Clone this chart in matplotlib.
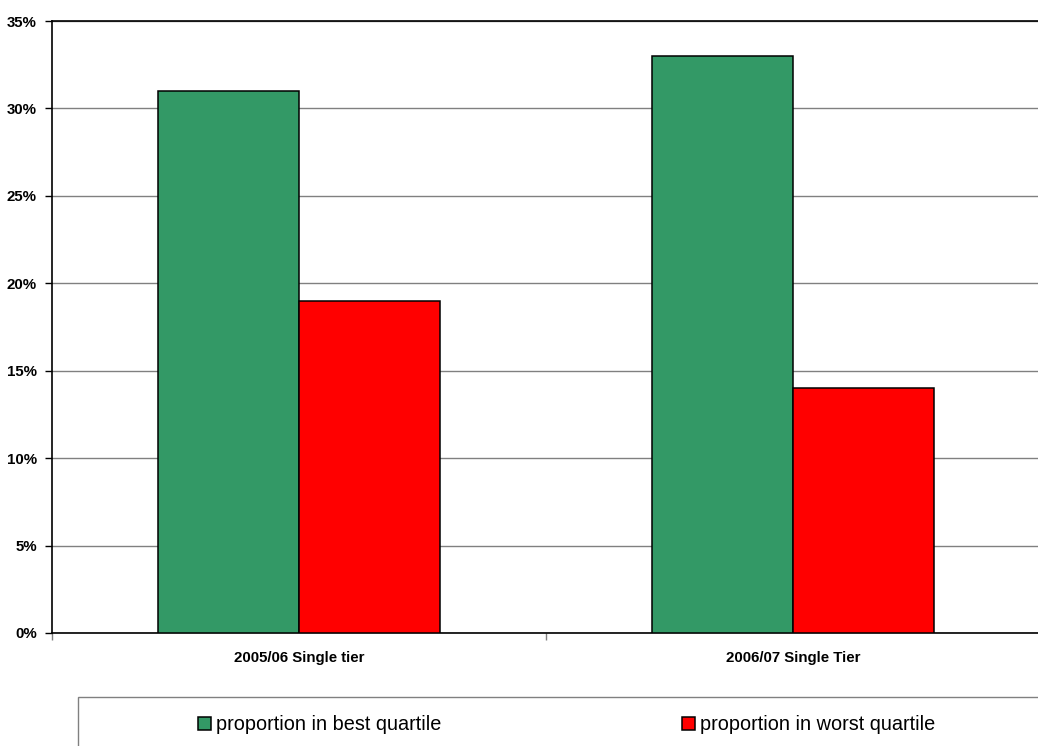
import matplotlib.pyplot as plt
import matplotlib.patches as mpatches
import numpy as np

plt.rcParams['font.family'] = ['Liberation Sans', 'DejaVu Sans']

# data
categories = ['2005/06 Single tier', '2006/07 Single Tier']
best_quartile = [31, 33]
worst_quartile = [19, 14]
series_names = ['proportion in best quartile', 'proportion in worst quartile']
y_ticks = [0, 5, 10, 15, 20, 25, 30, 35]

fig = plt.figure(figsize=(10.38, 7.46), dpi=100)
ax = fig.add_axes([52 / 1038, 113 / 746, 988 / 1038, 612 / 746])

x = np.arange(len(categories))
w = 0.285
b1 = ax.bar(x - w / 2, best_quartile, w, color='#339966', edgecolor='black', linewidth=1.1,
            label=series_names[0], zorder=3)
b2 = ax.bar(x + w / 2, worst_quartile, w, color='#ff0000', edgecolor='black', linewidth=1.1,
            label=series_names[1], zorder=3)

ax.set_xlim(-0.5, 1.5)
ax.set_ylim(0, 35)
ax.set_yticks(y_ticks)
ax.set_yticklabels([f'{t}%' for t in y_ticks], fontsize=10.8, fontweight='bold')
ax.yaxis.grid(True, color='#808080', linewidth=1, zorder=0)
ax.set_axisbelow(True)

# category labels at centers, tick marks at boundaries
ax.set_xticks(x)
ax.set_xticklabels(categories, fontsize=10.8, fontweight='bold')
ax.tick_params(axis='x', length=0, pad=13)
ax.set_xticks([-0.5, 0.5, 1.5], minor=True)
ax.tick_params(axis='x', which='minor', length=5, color='#808080', width=1)
ax.tick_params(axis='y', length=5, width=1, pad=6)

ax.spines['right'].set_visible(False)
for s in ['left', 'bottom', 'top']:
    ax.spines[s].set_color('black')
    ax.spines[s].set_linewidth(1.2)

# legend box
fig.patches.append(mpatches.Rectangle((78 / 1038, -0.01), 1.0, (746 - 697) / 746 + 0.01,
                                      transform=fig.transFigure, fill=False,
                                      edgecolor='#808080', linewidth=1))
fig.legend(handles=[b1, b2], labels=series_names, loc='center',
           bbox_to_anchor=(566.5 / 1038, (746 - 725) / 746), ncol=2, frameon=False,
           fontsize=14.3, handlelength=0.65, handleheight=0.65, handletextpad=0.25,
           columnspacing=12.1, borderpad=0)

fig.savefig('out.png', dpi=100)
